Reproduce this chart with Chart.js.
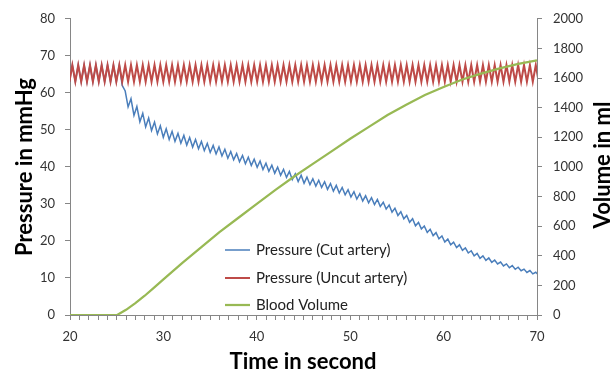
<!DOCTYPE html>
<html>
<head>
<meta charset="utf-8">
<script src="https://cdn.jsdelivr.net/npm/chart.js@4.4.1/dist/chart.umd.min.js"></script>
<style>
  html, body { margin: 0; padding: 0; background: #fff; }
  #wrap { width: 611px; height: 377px; }
</style>
</head>
<body>
<div id="wrap"><canvas id="myChart" width="611" height="377"></canvas></div>
<script>
// heartbeat sample times (s), peaks and troughs alternate
var pulseTimes = [
  19.94, 20.25, 20.57, 20.88, 21.20, 21.51, 21.82, 22.14, 22.45, 22.77,
  23.08, 23.39, 23.71, 24.02, 24.34, 24.65, 24.96, 25.28, 25.59, 25.91,
  26.22, 26.53, 26.85, 27.16, 27.48, 27.79, 28.10, 28.42, 28.73, 29.05,
  29.36, 29.67, 29.99, 30.30, 30.62, 30.93, 31.24, 31.56, 31.87, 32.19,
  32.50, 32.81, 33.13, 33.44, 33.76, 34.07, 34.38, 34.70, 35.01, 35.33,
  35.64, 35.95, 36.27, 36.58, 36.90, 37.21, 37.52, 37.84, 38.15, 38.47,
  38.78, 39.09, 39.41, 39.72, 40.04, 40.35, 40.66, 40.98, 41.29, 41.61,
  41.92, 42.23, 42.55, 42.86, 43.18, 43.49, 43.80, 44.12, 44.43, 44.75,
  45.06, 45.37, 45.69, 46.00, 46.32, 46.63, 46.94, 47.26, 47.57, 47.89,
  48.20, 48.51, 48.83, 49.14, 49.46, 49.77, 50.08, 50.40, 50.71, 51.03,
  51.34, 51.65, 51.97, 52.28, 52.60, 52.91, 53.22, 53.54, 53.85, 54.17,
  54.48, 54.79, 55.11, 55.42, 55.74, 56.05, 56.36, 56.68, 56.99, 57.31,
  57.62, 57.93, 58.25, 58.56, 58.88, 59.19, 59.50, 59.82, 60.13, 60.45,
  60.76, 61.07, 61.39, 61.70, 62.02, 62.33, 62.64, 62.96, 63.27, 63.59,
  63.90, 64.21, 64.53, 64.84, 65.16, 65.47, 65.78, 66.10, 66.41, 66.73,
  67.04, 67.35, 67.67, 67.98, 68.30, 68.61, 68.92, 69.24, 69.55, 69.87,
  70.18
];

// Pressure (Cut artery), mmHg
var cutPressure = [
  63.0, 67.5, 63.0, 67.5, 63.0, 67.5, 63.0, 67.5, 63.0, 67.5,
  63.0, 67.5, 63.0, 67.5, 63.0, 67.5, 63.0, 67.5, 62.0, 60.5,
  56.2, 58.4, 53.9, 56.3, 52.2, 54.5, 50.8, 53.2, 49.8, 52.1,
  48.9, 51.1, 48.0, 50.3, 47.4, 49.6, 46.9, 49.05, 46.4, 48.5,
  45.9, 47.95, 45.35, 47.4, 44.9, 46.85, 44.4, 46.35, 43.9, 45.8,
  43.5, 45.4, 42.95, 44.75, 42.35, 44.15, 41.9, 43.6, 41.4, 43.1,
  40.85, 42.6, 40.4, 42.1, 39.9, 41.6, 39.3, 41.0, 38.8, 40.45,
  38.3, 39.95, 37.75, 39.35, 37.15, 38.75, 36.55, 38.15, 36.05, 37.75,
  35.6, 37.25, 35.2, 36.8, 34.8, 36.4, 34.45, 36.0, 33.95, 35.5,
  33.45, 35.0, 32.95, 34.45, 32.45, 33.85, 31.85, 33.3, 31.3, 32.75,
  30.8, 32.2, 30.3, 31.7, 29.8, 31.2, 29.3, 30.45, 28.6, 29.7,
  27.75, 28.85, 26.9, 27.9, 26.0, 26.9, 25.05, 26.0, 24.1, 25.0,
  23.25, 24.05, 22.3, 23.15, 21.45, 22.25, 20.6, 21.35, 19.7, 20.5,
  18.95, 19.65, 18.2, 18.95, 17.45, 18.1, 16.75, 17.35, 16.0, 16.65,
  15.3, 15.95, 14.75, 15.4, 14.2, 14.85, 13.8, 14.3, 13.25, 13.8,
  12.75, 13.35, 12.35, 12.9, 11.95, 12.4, 11.5, 12.0, 11.1, 11.55,
  10.75
];

// Pressure (Uncut artery), mmHg
var uncutPressure = [
  63.0, 67.5, 63.0, 67.5, 63.0, 67.5, 63.0, 67.5, 63.0, 67.5,
  63.0, 67.5, 63.0, 67.5, 63.0, 67.5, 63.0, 67.5, 63.0, 67.5,
  63.0, 67.5, 63.0, 67.5, 63.0, 67.5, 63.0, 67.5, 63.0, 67.5,
  63.0, 67.5, 63.0, 67.5, 63.0, 67.5, 63.0, 67.5, 63.0, 67.5,
  63.0, 67.5, 63.0, 67.5, 63.0, 67.5, 63.0, 67.5, 63.0, 67.5,
  63.0, 67.5, 63.0, 67.5, 63.0, 67.5, 63.0, 67.5, 63.0, 67.5,
  63.0, 67.5, 63.0, 67.5, 63.0, 67.5, 63.0, 67.5, 63.0, 67.5,
  63.0, 67.5, 63.0, 67.5, 63.0, 67.5, 63.0, 67.5, 63.0, 67.5,
  63.0, 67.5, 63.0, 67.5, 63.0, 67.5, 63.0, 67.5, 63.0, 67.5,
  63.0, 67.5, 63.0, 67.5, 63.0, 67.5, 63.0, 67.5, 63.0, 67.5,
  63.0, 67.5, 63.0, 67.5, 63.0, 67.5, 63.0, 67.5, 63.0, 67.5,
  63.0, 67.5, 63.0, 67.5, 63.0, 67.5, 63.0, 67.5, 63.0, 67.5,
  63.0, 67.5, 63.0, 67.5, 63.0, 67.5, 63.0, 67.5, 63.0, 67.5,
  63.0, 67.5, 63.0, 67.5, 63.0, 67.5, 63.0, 67.5, 63.0, 67.5,
  63.0, 67.5, 63.0, 67.5, 63.0, 67.5, 63.0, 67.5, 63.0, 67.5,
  63.0, 67.5, 63.0, 67.5, 63.0, 67.5, 63.0, 67.5, 63.0, 67.5,
  63.0
];

// Blood Volume, ml (right axis)
var volumeTimes = [20, 25.05, 26, 27, 28, 29, 30, 32, 34, 36, 38, 40, 42, 44, 46, 48, 50, 52, 54, 56, 58, 60, 62, 64, 66, 68, 70];
var bloodVolume = [0, 0, 35, 80, 130, 185, 240, 350, 455, 560, 655, 750, 845, 935, 1020, 1105, 1190, 1270, 1350, 1420, 1485, 1540, 1590, 1630, 1665, 1695, 1720];

var seriesNames = ["Pressure (Cut artery)", "Pressure (Uncut artery)", "Blood Volume"];
var xTicks = [20, 30, 40, 50, 60, 70];

function toPoints(xs, ys) {
    return xs.map(function (x, i) { return { x: x, y: ys[i] }; });
}

var AXIS_GREY = "#868686";
var TICK_TEXT = "#333";
var FONT = "Lato, 'Open Sans', sans-serif";

// axis titles + in-plot legend, drawn like the Excel original
var overlayPlugin = {
    id: "overlay",
    afterDraw: function (chart) {
        var ctx = chart.ctx;
        ctx.save();
        ctx.fillStyle = "#000";
        ctx.font = "bold 22px " + FONT;
        ctx.textAlign = "center";
        ctx.textBaseline = "middle";

        ctx.fillText("Time in second", 303, 362);

        ctx.save();
        ctx.translate(25, 167);
        ctx.rotate(-Math.PI / 2);
        ctx.fillText("Pressure in mmHg", 0, 0);
        ctx.restore();

        ctx.save();
        ctx.translate(603, 165);
        ctx.rotate(-Math.PI / 2);
        ctx.fillText("Volume in ml", 0, 0);
        ctx.restore();

        // legend
        var rows = [250, 278, 305];
        ctx.font = "15px " + FONT;
        ctx.textAlign = "left";
        ctx.fillStyle = "#222";
        chart.data.datasets.forEach(function (ds, i) {
            var y = rows[i];
            ctx.strokeStyle = ds.borderColor;
            ctx.lineWidth = ds.borderWidth;
            ctx.beginPath();
            ctx.moveTo(225, y);
            ctx.lineTo(250, y);
            ctx.stroke();
            ctx.fillText(ds.label, 256, y);
        });
        ctx.restore();
    }
};

var ctx = document.getElementById("myChart").getContext("2d");

var myChart = new Chart(ctx, {
    type: "line",
    data: {
        datasets: [
            {
                label: seriesNames[0],
                data: toPoints(pulseTimes, cutPressure),
                borderColor: "#4A7EBB",
                borderWidth: 1.5,
                yAxisID: "y",
                order: 2
            },
            {
                label: seriesNames[1],
                data: toPoints(pulseTimes, uncutPressure),
                borderColor: "#BE4B48",
                borderWidth: 2,
                yAxisID: "y",
                order: 1
            },
            {
                label: seriesNames[2],
                data: toPoints(volumeTimes, bloodVolume),
                borderColor: "#98B954",
                borderWidth: 2.25,
                yAxisID: "y1",
                order: 0
            }
        ]
    },
    options: {
        responsive: false,
        animation: false,
        layout: { padding: { top: 15, left: 0, right: 0, bottom: 0 } },
        elements: {
            point: { radius: 0 },
            line: { tension: 0 }
        },
        plugins: {
            legend: { display: false },
            tooltip: { enabled: false }
        },
        scales: {
            x: {
                type: "linear",
                min: 20,
                max: 70,
                afterFit: function (scale) { scale.height = 62; },
                border: { display: true, color: AXIS_GREY },
                grid: { drawOnChartArea: false, drawTicks: true, tickLength: 5, color: AXIS_GREY },
                ticks: {
                    stepSize: 1,
                    autoSkip: false,
                    maxRotation: 0,
                    padding: 9,
                    color: TICK_TEXT,
                    font: { family: FONT, size: 13 },
                    callback: function (v) { return xTicks.indexOf(v) >= 0 ? String(v) : ""; }
                }
            },
            y: {
                position: "left",
                min: 0,
                max: 80,
                afterFit: function (scale) { scale.width = 70; },
                border: { display: true, color: AXIS_GREY },
                grid: { drawOnChartArea: false, drawTicks: true, tickLength: 5, color: AXIS_GREY },
                ticks: {
                    stepSize: 10,
                    padding: 10,
                    color: TICK_TEXT,
                    font: { family: FONT, size: 13 }
                }
            },
            y1: {
                position: "right",
                min: 0,
                max: 2000,
                afterFit: function (scale) { scale.width = 74; },
                border: { display: true, color: AXIS_GREY },
                grid: { drawOnChartArea: false, drawTicks: true, tickLength: 5, color: AXIS_GREY },
                ticks: {
                    stepSize: 200,
                    padding: 11,
                    color: TICK_TEXT,
                    font: { family: FONT, size: 13 },
                    callback: function (v) { return String(v); }
                }
            }
        }
    },
    plugins: [overlayPlugin]
});
</script>
</body>
</html>
